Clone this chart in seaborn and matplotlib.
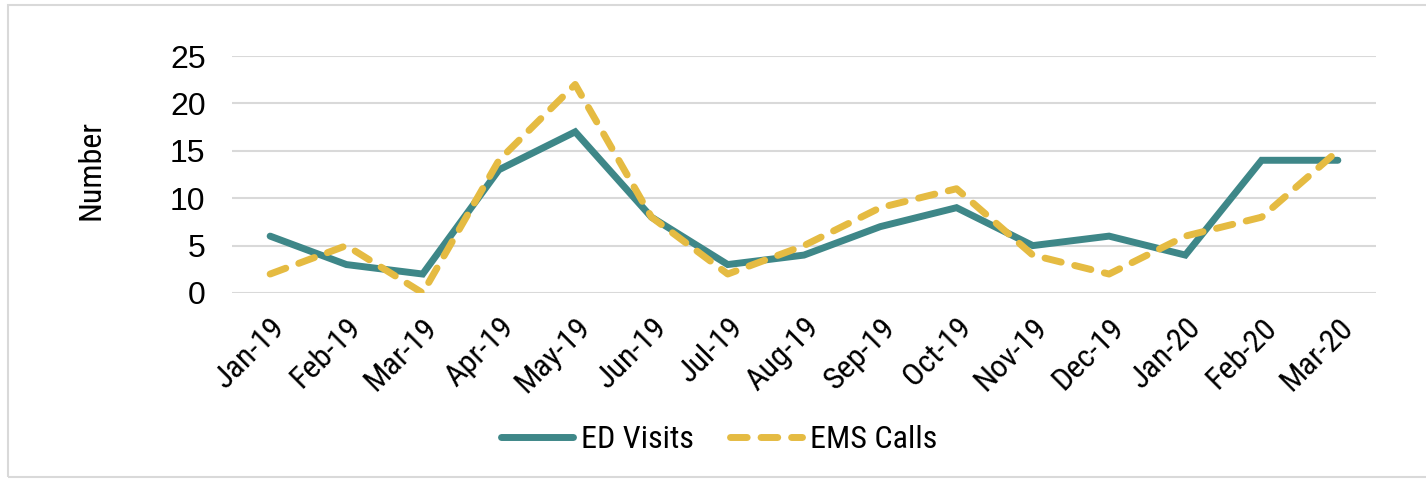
import numpy as np
import pandas as pd
import matplotlib.pyplot as plt
import seaborn as sns
from matplotlib.patches import Rectangle

months = ['Jan-19', 'Feb-19', 'Mar-19', 'Apr-19', 'May-19', 'Jun-19', 'Jul-19',
          'Aug-19', 'Sep-19', 'Oct-19', 'Nov-19', 'Dec-19', 'Jan-20', 'Feb-20', 'Mar-20']
ed_visits = [6, 3, 2, 13, 17, 8, 3, 4, 7, 9, 5, 6, 4, 14, 14]
ems_calls = [2, 5, 0, 14, 22, 8, 2, 5, 9, 11, 4, 2, 6, 8, 15]
yticks = [0, 5, 10, 15, 20, 25]

teal = '#3E8788'
gold = '#E5BB42'

sns.set_style('white')
plt.rcParams['font.family'] = ['Roboto Condensed', 'Liberation Sans', 'DejaVu Sans']
plt.rcParams['text.color'] = 'black'
plt.rcParams['xtick.color'] = 'black'
plt.rcParams['ytick.color'] = 'black'
plt.rcParams['axes.labelcolor'] = 'black'

df = pd.DataFrame({'month': months, 'ED Visits': ed_visits, 'EMS Calls': ems_calls})
df['pos'] = np.arange(len(months))

fig = plt.figure(figsize=(14.26, 4.79), dpi=100)
ax = fig.add_axes([232/1426, 1 - 293/479, (1376 - 232)/1426, (293 - 56)/479])

sns.lineplot(data=df, x='pos', y='ED Visits', ax=ax, color=teal, lw=5,
             solid_capstyle='round', solid_joinstyle='miter', label='ED Visits', sort=False)
sns.lineplot(data=df, x='pos', y='EMS Calls', ax=ax, color=gold, lw=5,
             dashes=(2.4, 2.0), dash_capstyle='round', label='EMS Calls', sort=False)

ax.set_xlim(-0.5, len(months) - 0.5)
ax.set_ylim(0, 25)
ax.set_yticks(yticks)
ax.set_yticklabels([str(v) for v in yticks], family=['Liberation Sans', 'DejaVu Sans'])
ax.set_xticks(df['pos'])
ax.set_xticklabels(months, rotation=45, ha='right', rotation_mode='anchor')
ax.tick_params(axis='both', labelsize=23, length=0)
ax.tick_params(axis='y', pad=19)
ax.tick_params(axis='x', pad=14)
ax.grid(axis='y', color='#D9D9D9', lw=1.5)
ax.set_axisbelow(True)
for s in ax.spines.values():
    s.set_visible(False)
ax.set_xlabel('')
ax.set_ylabel('Number', fontsize=23)
ax.yaxis.set_label_coords(-127/1144, 0.52)

ax.get_legend().remove()
h, l = ax.get_legend_handles_labels()
leg = fig.legend(h, l, loc='center', bbox_to_anchor=(719/1426, 1 - 440/479), ncol=2,
                 frameon=False, fontsize=23, handlelength=2.25, handletextpad=0.25,
                 columnspacing=1.15)
for line in leg.get_lines():
    line.set_linewidth(5)

fig.patches.append(Rectangle((8/1426, 2/479), 1.1, (474 - 2)/479, transform=fig.transFigure,
                             fill=False, edgecolor='#D9D9D9', lw=1.5))

fig.savefig('out.png', dpi=100)
